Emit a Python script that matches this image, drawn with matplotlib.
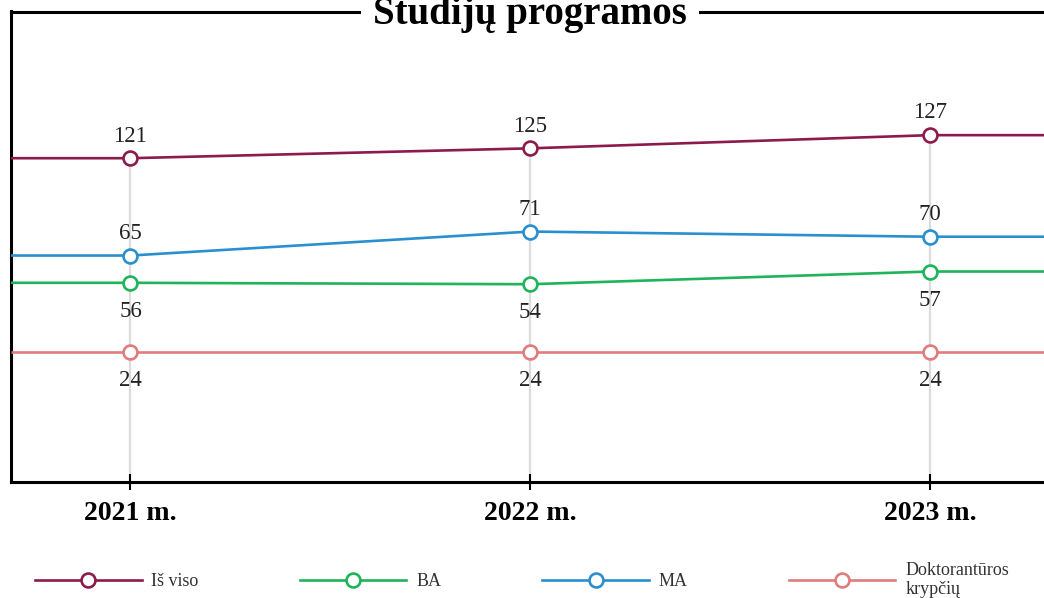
import matplotlib
matplotlib.use("Agg")
import matplotlib.pyplot as plt
from matplotlib.lines import Line2D

# ---- data ----
years = [2021, 2022, 2023]
year_labels = ["2021 m.", "2022 m.", "2023 m."]
series_names = ["Iš viso", "BA", "MA", "Doktorantūros\nkrypčių"]

# value labels shown on the chart
vals_total = [121, 125, 127]
vals_ba = [56, 54, 57]
vals_ma = [65, 71, 70]
vals_dr = [24, 24, 24]

# vertical position of each line (% of plot height)
lvl_total = [68.8, 70.9, 73.7]
lvl_ba = [42.3, 42.0, 44.7]
lvl_ma = [48.1, 53.2, 52.1]
lvl_dr = [27.6, 27.6, 27.6]

colors = ["#8c1a4b", "#1fb35a", "#2a8fce", "#e07c7c"]
label_above = [True, False, True, False]

plt.rcParams['font.family'] = ['Liberation Serif', 'DejaVu Serif']

W, H = 1044, 598
fig = plt.figure(figsize=(W / 100, H / 100), dpi=100)
ax_left, ax_right = 10.5 / W, 1.0
ax_bottom, ax_top = 1 - 481.7 / H, 1 - 11.5 / H
ax = fig.add_axes([ax_left, ax_bottom, ax_right - ax_left, ax_top - ax_bottom])

xmin, xmax = 2020.70, 2023.285
ax.set_xlim(xmin, xmax)
ax.set_ylim(0, 100)

levels = [lvl_total, lvl_ba, lvl_ma, lvl_dr]
values = [vals_total, vals_ba, vals_ma, vals_dr]

# vertical guides
for i, yr in enumerate(years):
    top = max(l[i] for l in levels)
    ax.vlines(yr, 0, top, color="#dcdcdc", lw=1.6, zorder=1)

handles = []
for lv, vals, c, above in zip(levels, values, colors, label_above):
    xs = [xmin] + years + [xmax]
    ys = [lv[0]] + lv + [lv[-1]]
    ax.plot(xs, ys, color=c, lw=1.9, zorder=3, solid_capstyle='butt')
    ax.plot(years, lv, ls='none', marker='o', ms=10, mfc='white', mec=c,
            mew=1.9, zorder=4)
    for x, y, v in zip(years, lv, vals):
        if above:
            ax.annotate(str(v), (x, y), xytext=(0, 12), textcoords='offset points',
                        ha='center', va='baseline', fontsize=16.5, color='#222222')
        else:
            ax.annotate(str(v), (x, y), xytext=(0, -13), textcoords='offset points',
                        ha='center', va='top', fontsize=16.5, color='#222222')
    handles.append(Line2D([], [], color=c, lw=1.9, marker='o', ms=10,
                          mfc='white', mec=c, mew=1.9))

for side in ['left', 'bottom', 'top']:
    ax.spines[side].set_linewidth(2.2)
    ax.spines[side].set_color('black')
ax.spines['right'].set_visible(False)

ax.set_yticks([])
ax.set_xticks(years)
ax.set_xticklabels(year_labels, fontsize=20, fontweight='bold')
ax.tick_params(axis='x', direction='inout', length=11.5, width=1.5,
               color='black', pad=8)

fig.text(530 / W, 1 - 24 / H, "Studijų programos", ha='center', va='baseline',
         fontsize=28, fontweight='bold', color='black',
         bbox=dict(boxstyle='square,pad=0.3', fc='white', ec='none'))

# legend order: Iš viso, BA, MA, Doktorantūros
fig.legend(handles, series_names, loc='center', ncol=4, mode='expand',
           bbox_to_anchor=(35 / W, 1 - 580 / H, (1009 - 35) / W, 0),
           frameon=False, fontsize=13, handlelength=5.9, handletextpad=0.55,
           borderpad=0, borderaxespad=0, labelcolor='#333333', numpoints=1)

fig.savefig("out.png", dpi=100, facecolor='white')
